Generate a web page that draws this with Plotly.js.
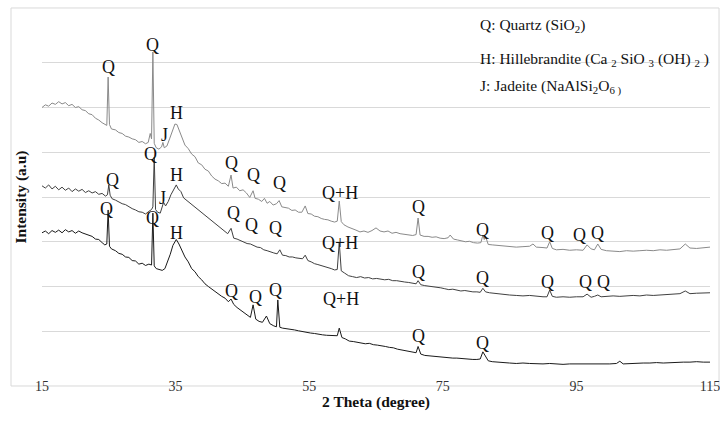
<!DOCTYPE html>
<html>
<head>
<meta charset="utf-8">
<script src="https://cdn.plot.ly/plotly-3.0.1.min.js"></script>
<style>html,body{margin:0;padding:0;background:#fff;}#chart{width:720px;height:423px;}</style>
</head>
<body>
<div id="chart"></div>
<script>
// ---- Data (2 Theta in degrees, intensity in arbitrary offset units) ----
const xTop = [15,15.5,16,16.5,17,17.5,18,18.5,19,19.5,20,20.5,21,21.5,22,22.5,23,23.5,24,24.5,24.7,24.9,25.1,25.4,26,26.5,27,27.5,28,28.5,29,29.5,30,30.5,30.9,31.2,31.4,31.6,31.8,32.1,32.5,32.9,33.1,33.3,33.7,34.1,34.5,34.9,35.2,35.5,35.9,36.4,36.9,37.4,37.9,38.4,38.9,39.4,39.9,40.4,40.9,41.4,41.9,42.4,42.9,43.3,43.6,44.1,44.6,45.1,45.6,46.1,46.6,46.9,47.4,47.9,48.3,48.7,49.1,49.6,50.1,50.5,50.9,51.4,51.9,52.4,52.9,53.4,53.9,54.4,54.8,55.3,55.8,56.3,56.8,57.3,57.8,58.3,58.8,59.2,59.5,59.8,60.2,60.8,61.4,62,62.6,63.2,63.8,64.4,65,65.6,66.2,66.8,67.4,68,68.6,69.2,69.8,70.5,71,71.3,71.6,72.2,72.8,73.4,74,74.6,75.2,75.8,76.1,76.6,77.2,77.8,78.4,79,79.6,80.2,80.7,81,81.2,81.4,81.8,82.4,83,84,85,86,87,88,88.5,89,90,90.6,91,91.4,92,93,94,95,96,96.6,97.2,97.7,98.2,98.7,99.5,100.5,101.5,102.5,103.5,104.5,105.5,106.5,107.5,108.5,109.5,110.5,111.3,112,113,114,115];
const yTop = [6.00,6.06,6.03,6.10,6.07,6.13,6.08,6.11,6.04,6.07,6.00,6.02,5.95,5.93,5.86,5.84,5.76,5.72,5.66,5.62,5.60,6.68,5.62,5.52,5.50,5.44,5.42,5.36,5.34,5.30,5.28,5.22,5.24,5.19,5.22,5.42,5.30,7.24,5.20,5.10,5.07,5.12,5.22,5.10,5.14,5.30,5.48,5.63,5.62,5.50,5.34,5.16,5.08,4.96,4.90,4.76,4.72,4.62,4.58,4.47,4.40,4.36,4.30,4.31,4.24,4.49,4.20,4.22,4.14,4.16,4.09,3.99,4.14,3.97,3.95,3.90,3.97,3.86,3.90,3.82,3.85,3.92,3.78,3.76,3.75,3.70,3.71,3.66,3.66,3.80,3.63,3.62,3.57,3.56,3.52,3.50,3.49,3.46,3.44,3.46,3.91,3.45,3.38,3.33,3.30,3.26,3.22,3.24,3.21,3.25,3.31,3.24,3.22,3.24,3.19,3.21,3.18,3.17,3.15,3.14,3.16,3.53,3.15,3.12,3.12,3.10,3.11,3.08,3.07,3.09,3.15,3.06,3.04,3.02,3.00,3.01,2.98,2.97,2.98,3.15,3.05,3.12,2.94,2.93,2.92,2.91,2.90,2.88,2.89,2.90,2.95,2.88,2.87,2.86,3.00,2.85,2.82,2.83,2.81,2.82,2.81,2.93,2.84,2.82,2.95,2.83,2.80,2.79,2.78,2.80,2.79,2.80,2.81,2.80,2.82,2.81,2.83,2.84,2.95,2.86,2.85,2.87,2.88];

const xMid = [15,15.5,16,16.5,17,17.5,18,18.5,19,19.5,20,20.5,21,21.5,22,22.5,23,23.5,24,24.5,24.8,25.0,25.2,25.5,26,26.5,27,27.5,28,28.5,29,29.5,30,30.5,31,31.4,31.6,31.8,32.0,32.3,32.7,33.0,33.2,33.5,33.9,34.3,34.7,35.1,35.4,35.8,36.2,36.7,37.2,37.7,38.2,38.7,39.2,39.7,40.2,40.7,41.2,41.7,42.2,42.8,43.3,43.7,44.2,44.7,45.2,45.7,46.2,46.7,47.2,47.7,48.2,48.7,49.2,49.7,50.2,50.6,51,51.5,52,52.5,53,53.5,54,54.4,54.8,55.3,55.8,56.3,56.8,57.3,57.8,58.3,58.8,59.2,59.5,59.8,60.3,60.9,61.5,62.1,62.7,63.3,63.9,64.5,65.1,65.7,66.3,66.9,67.5,68.1,68.7,69.3,69.9,70.5,71,71.3,71.7,72.3,72.9,73.5,74.1,74.7,75.3,75.9,76.5,77.1,77.7,78.3,78.9,79.5,80.1,80.6,81,81.4,82,83,84,85,86,87,88,89,90,90.6,91,91.4,92,93,94,95,96,96.6,97.2,97.7,98.2,98.7,99.5,100.5,101.5,102.5,103.5,104.5,105.5,106.5,107.5,108.5,109.5,110.5,111.3,112,113,114,115];
const yMid = [4.25,4.20,4.27,4.18,4.24,4.16,4.22,4.15,4.20,4.12,4.18,4.13,4.17,4.10,4.14,4.09,4.12,4.06,4.08,4.02,4.05,4.27,4.04,3.96,3.93,3.89,3.85,3.83,3.78,3.74,3.71,3.67,3.66,3.62,3.68,3.72,3.78,4.89,3.72,3.66,3.64,3.78,3.88,3.80,3.90,4.05,4.18,4.27,4.18,4.12,3.98,3.92,3.84,3.80,3.72,3.66,3.62,3.55,3.49,3.44,3.36,3.31,3.25,3.18,3.30,3.08,3.06,3.03,3.00,2.96,2.95,2.92,2.88,2.87,2.82,2.80,2.77,2.75,2.73,2.82,2.70,2.69,2.66,2.66,2.64,2.63,2.62,2.70,2.58,2.55,2.51,2.49,2.47,2.45,2.42,2.40,2.37,2.38,2.99,2.35,2.30,2.24,2.22,2.20,2.22,2.19,2.20,2.17,2.18,2.16,2.15,2.16,2.13,2.13,2.11,2.10,2.09,2.07,2.06,2.13,2.04,2.02,2.01,1.99,1.98,1.97,1.95,1.93,1.94,1.92,1.90,1.91,1.89,1.88,1.88,1.87,1.96,1.88,1.86,1.84,1.82,1.81,1.80,1.79,1.80,1.78,1.77,1.77,1.92,1.78,1.76,1.77,1.76,1.77,1.77,1.83,1.76,1.78,1.81,1.77,1.78,1.79,1.78,1.79,1.80,1.79,1.81,1.80,1.81,1.82,1.82,1.84,1.90,1.84,1.85,1.85,1.86];

const xBot = [15,15.5,16,16.5,17,17.5,18,18.5,19,19.5,20,20.5,21,21.5,22,22.5,23,23.5,24,24.4,24.7,24.9,25.1,25.4,26,26.5,27,27.5,28,28.5,29,29.5,30,30.5,31.0,31.4,31.6,31.8,32.1,32.5,33.0,33.4,33.8,34.2,34.6,35.1,35.5,35.9,36.4,36.9,37.4,37.9,38.4,38.9,39.4,39.9,40.4,40.9,41.4,41.9,42.4,42.9,43.3,43.7,44.2,44.7,45.2,45.7,46.2,46.6,47.0,47.5,48.0,48.6,49.1,49.7,50.1,50.3,50.6,51,51.6,52.2,52.8,53.4,54,54.6,55.2,55.8,56.4,57,57.6,58.2,58.8,59.2,59.5,59.9,60.4,61,61.6,62.2,62.8,63.4,64,64.6,65.2,65.8,66.4,67,67.6,68.2,68.8,69.4,70,70.6,71,71.3,71.7,72.3,72.9,73.5,74.1,74.7,75.3,75.9,76.5,77.1,77.7,78.3,78.9,79.5,80.1,80.6,81,81.4,81.8,82.4,83,84,85,86,87,88,89,90,91,92,93,94,95,96,97,98,99,100,101,101.5,102,103,104,105,106,107,108,109,110,111,112,113,114,115];
const yBot = [3.20,3.24,3.18,3.25,3.21,3.26,3.20,3.27,3.22,3.25,3.19,3.24,3.20,3.17,3.15,3.12,3.06,3.05,2.98,2.93,2.95,3.71,2.90,2.84,2.80,2.74,2.72,2.66,2.65,2.58,2.57,2.50,2.52,2.47,2.50,2.48,3.64,2.46,2.40,2.38,2.36,2.40,2.55,2.72,2.92,3.05,2.95,2.82,2.66,2.55,2.40,2.33,2.22,2.15,2.06,2.00,1.94,1.88,1.84,1.78,1.74,1.66,1.72,1.60,1.53,1.48,1.42,1.38,1.31,1.59,1.27,1.22,1.20,1.34,1.17,1.12,1.10,1.70,1.09,1.07,1.06,1.04,1.03,1.01,0.99,0.97,0.96,0.95,0.93,0.92,0.91,0.90,0.89,0.90,1.07,0.86,0.83,0.78,0.77,0.75,0.74,0.72,0.73,0.70,0.69,0.68,0.66,0.64,0.63,0.60,0.58,0.57,0.55,0.53,0.52,0.66,0.49,0.46,0.45,0.44,0.43,0.42,0.42,0.41,0.40,0.40,0.39,0.38,0.38,0.37,0.37,0.38,0.54,0.44,0.34,0.32,0.31,0.30,0.29,0.28,0.29,0.28,0.27,0.27,0.28,0.27,0.26,0.27,0.27,0.26,0.27,0.27,0.26,0.27,0.28,0.33,0.27,0.28,0.28,0.29,0.29,0.30,0.29,0.30,0.31,0.31,0.31,0.32,0.31,0.31];

const seriesNames = ["MGP80/20/0", "MGP90/10/0", "MGP100/0/0"];
const seriesLabelY = [3.20, 2.08, 0.54];

// Peak labels
const peakText = ["Q","Q","H","J","Q","Q","Q","Q+H","Q","Q","Q","Q","Q",
                  "Q","Q","H","J","Q","Q","Q","Q+H","Q","Q","Q","Q","Q",
                  "Q","Q","H","Q","Q","Q","Q+H","Q","Q"];
const peakX = [24.9,31.6,35.1,33.3,43.4,46.6,50.6,59.6,71.3,81.0,90.7,95.5,98.1,
               25.5,31.3,35.1,33.1,43.6,46.4,50.0,59.6,71.4,81.0,90.7,96.3,99.0,
               24.7,31.5,35.1,43.4,46.9,50.0,59.8,71.3,81.0];
const peakY = [6.91,7.40,5.88,5.39,4.76,4.49,4.31,4.09,3.78,3.26,3.20,3.15,3.20,
               4.38,4.96,4.49,3.98,3.64,3.37,3.31,2.97,2.32,2.19,2.10,2.10,2.10,
               3.73,3.53,3.20,1.90,1.77,1.92,1.72,0.89,0.74];

// Phase key
const keyText = ["Q: Quartz (SiO<sub>2</sub>)",
                 "H: Hillebrandite (Ca <sub>2</sub> SiO <sub>3</sub> (OH) <sub>2</sub> )",
                 "J: Jadeite (NaAlSi<sub>2</sub>O<sub>6 )</sub>"];
const keyY = [7.84, 7.08, 6.46];
const keyX = 80.3;

const xTicks = [15, 35, 55, 75, 95, 115];

const serif = "Liberation Serif";
const colors = ["#8a8a8a", "#404040", "#1a1a1a"];

const traces = [
  {x: xTop, y: yTop, name: seriesNames[0], mode: "lines", line: {color: colors[0], width: 1}},
  {x: xMid, y: yMid, name: seriesNames[1], mode: "lines", line: {color: colors[1], width: 1}},
  {x: xBot, y: yBot, name: seriesNames[2], mode: "lines", line: {color: colors[2], width: 1}}
];

const annotations = [];
for (let i = 0; i < peakText.length; i++) {
  annotations.push({x: peakX[i], y: peakY[i], xref: "x", yref: "y", text: peakText[i],
    showarrow: false, xanchor: "center", yanchor: "middle",
    font: {family: serif, size: 18, color: "#111"}});
}
for (let i = 0; i < keyText.length; i++) {
  annotations.push({x: keyX, y: keyY[i], xref: "x", yref: "y", text: keyText[i],
    showarrow: false, xanchor: "left", yanchor: "middle",
    font: {family: serif, size: 15.5, color: "#111"}});
}
for (let i = 0; i < seriesNames.length; i++) {
  annotations.push({x: 115.3, y: seriesLabelY[i], xref: "x", yref: "y", text: seriesNames[i],
    showarrow: false, xanchor: "right", yanchor: "middle",
    font: {family: "Liberation Sans", size: 11, color: "#595959"}});
}

const layout = {
  width: 720, height: 423,
  margin: {l: 42, r: 10, t: 18, b: 47},
  paper_bgcolor: "#fff", plot_bgcolor: "#fff",
  showlegend: false,
  font: {family: serif},
  xaxis: {
    range: [15, 115], tickvals: xTicks, ticktext: xTicks.map(String),
    showgrid: false, zeroline: false, showline: false, ticks: "",
    ticklabeloverflow: "allow",
    tickfont: {family: serif, size: 14, color: "#333"},
    title: {text: "<b>2 Theta (degree)</b>", font: {family: serif, size: 15.5, color: "#111"}, standoff: 3}
  },
  yaxis: {
    range: [0, 8], dtick: 1, tick0: 0, showticklabels: false,
    showgrid: true, gridcolor: "#d9d9d9", gridwidth: 1, zeroline: false, showline: false, ticks: "",
    title: {text: "<b>Intensity (a.u)</b>", font: {family: serif, size: 15.5, color: "#111"}, standoff: 10}
  },
  annotations: annotations,
  shapes: [{type: "rect", xref: "paper", yref: "paper",
    x0: -0.0464, x1: 1.0135, y0: -0.0279, y1: 1.028,
    line: {color: "#d9d9d9", width: 1}, fillcolor: "rgba(0,0,0,0)", layer: "below"}]
};

Plotly.newPlot("chart", traces, layout, {displayModeBar: false, staticPlot: true});
</script>
</body>
</html>
